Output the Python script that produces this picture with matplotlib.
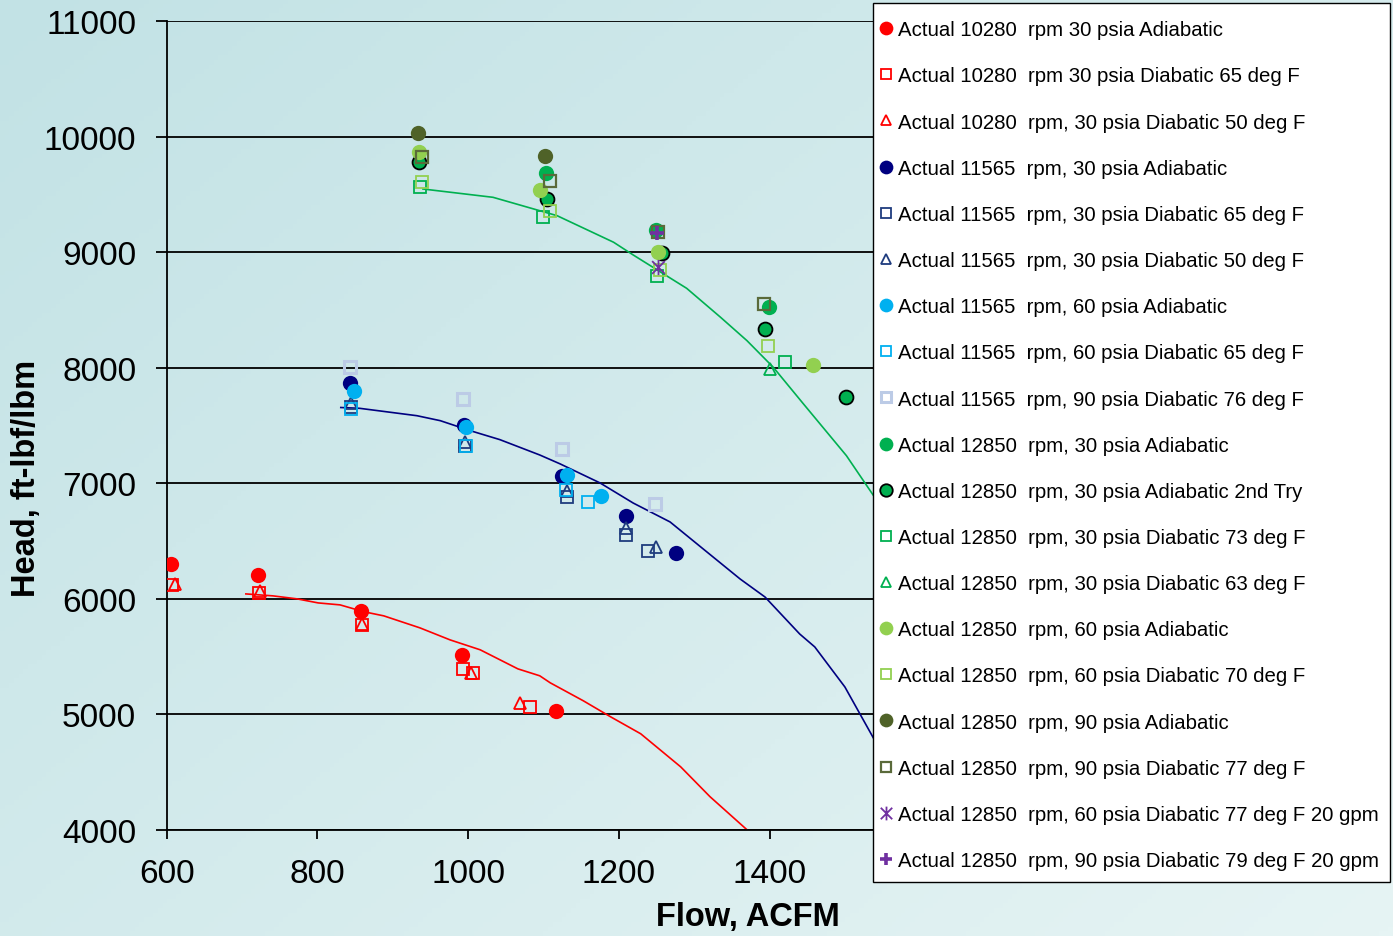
import numpy as np
import matplotlib
matplotlib.use('Agg')
import matplotlib.pyplot as plt
from matplotlib.path import Path
from matplotlib.patches import Rectangle
from matplotlib.colors import LinearSegmentedColormap

plt.rcParams['font.family'] = ['Liberation Sans', 'DejaVu Sans']

# flow (ACFM) / head (ft-lbf/lbm)
# 10280 rpm
r10_adi_x = [606, 721, 858, 992, 1117]
r10_adi_y = [6300, 6206, 5894, 5513, 5029]
r10_d65_x = [607, 722, 859, 993, 1007, 1082]
r10_d65_y = [6119, 6050, 5775, 5390, 5360, 5063]
r10_d50_x = [611, 724, 859, 1004, 1069]
r10_d50_y = [6127, 6068, 5784, 5357, 5098]

# 11565 rpm
r11_adi_x = [843, 995, 1124, 1210, 1276]
r11_adi_y = [7866, 7505, 7066, 6714, 6394]
r11_d65_x = [845, 996, 1131, 1209, 1239]
r11_d65_y = [7661, 7323, 6879, 6552, 6411]
r11_d50_x = [845, 996, 1131, 1210, 1249]
r11_d50_y = [7695, 7358, 6936, 6610, 6446]
r11_60adi_x = [848, 997, 1131, 1176]
r11_60adi_y = [7802, 7490, 7072, 6893]
r11_60d65_x = [845, 997, 1130, 1159]
r11_60d65_y = [7644, 7326, 6946, 6835]
r11_90d76_x = [843, 993, 1125, 1248]
r11_90d76_y = [8004, 7730, 7297, 6820]

# 12850 rpm
r12_adi_x = [1103, 1249, 1399]
r12_adi_y = [9684, 9193, 8524]
r12_adi2_x = [935, 1105, 1257, 1394, 1501]
r12_adi2_y = [9782, 9461, 8994, 8336, 7750]
r12_d73_x = [936, 1100, 1250, 1420]
r12_d73_y = [9563, 9303, 8797, 8053]
r12_d63_x = [1401]
r12_d63_y = [7990]
r12_60adi_x = [935, 1095, 1252, 1457]
r12_60adi_y = [9866, 9542, 9000, 8024]
r12_60d70_x = [939, 1108, 1255, 1398]
r12_60d70_y = [9611, 9360, 8849, 8191]
r12_90adi_x = [934, 1102]
r12_90adi_y = [10033, 9836]
r12_90d77_x = [939, 1108, 1252, 1392]
r12_90d77_y = [9823, 9620, 9173, 8552]
r12_60gpm_x = [1252]
r12_60gpm_y = [8875]
r12_90gpm_x = [1250]
r12_90gpm_y = [9164]

# predicted curves
red_line_x = [705, 741, 773, 801, 830, 862, 888, 936, 976, 1016, 1066, 1095,
              1109, 1153, 1189, 1229, 1282, 1321, 1370, 1400]
red_line_y = [6042, 6025, 5999, 5964, 5947, 5887, 5852, 5748, 5644, 5558, 5393,
              5333, 5272, 5116, 4978, 4831, 4545, 4286, 4000, 3800]
blue_line_x = [831, 856, 932, 963, 1003, 1042, 1095, 1122, 1175, 1219, 1268,
               1312, 1361, 1394, 1440, 1460, 1500, 1537, 1580]
blue_line_y = [7656, 7649, 7585, 7542, 7455, 7378, 7245, 7168, 7003, 6829, 6665,
               6431, 6171, 6015, 5695, 5583, 5236, 4804, 4300]
green_line_x = [940, 1033, 1118, 1193, 1219, 1290, 1335, 1370, 1405, 1445,
                1502, 1538, 1580]
green_line_y = [9548, 9476, 9317, 9087, 8977, 8688, 8437, 8235, 8004, 7687,
                7239, 6893, 6450]

x_ticks = [600, 800, 1000, 1200, 1400, 1600, 1800, 2000]
x_ticklabels = ['600', '800', '1000', '1200', '1400', '', '', '']  # rest sit under the legend
y_ticks = [4000, 5000, 6000, 7000, 8000, 9000, 10000, 11000]

labels = [
    'Actual 10280  rpm 30 psia Adiabatic',
    'Actual 10280  rpm 30 psia Diabatic 65 deg F',
    'Actual 10280  rpm, 30 psia Diabatic 50 deg F',
    'Actual 11565  rpm, 30 psia Adiabatic',
    'Actual 11565  rpm, 30 psia Diabatic 65 deg F',
    'Actual 11565  rpm, 30 psia Diabatic 50 deg F',
    'Actual 11565  rpm, 60 psia Adiabatic',
    'Actual 11565  rpm, 60 psia Diabatic 65 deg F',
    'Actual 11565  rpm, 90 psia Diabatic 76 deg F',
    'Actual 12850  rpm, 30 psia Adiabatic',
    'Actual 12850  rpm, 30 psia Adiabatic 2nd Try',
    'Actual 12850  rpm, 30 psia Diabatic 73 deg F',
    'Actual 12850  rpm, 30 psia Diabatic 63 deg F',
    'Actual 12850  rpm, 60 psia Adiabatic',
    'Actual 12850  rpm, 60 psia Diabatic 70 deg F',
    'Actual 12850  rpm, 90 psia Adiabatic',
    'Actual 12850  rpm, 90 psia Diabatic 77 deg F',
    'Actual 12850  rpm, 60 psia Diabatic 77 deg F 20 gpm',
    'Actual 12850  rpm, 90 psia Diabatic 79 deg F 20 gpm',
]

# excel style asterisk: an x with a vertical bar through it
star = Path([(-1, -1), (1, 1), (-1, 1), (1, -1), (0, -1.2), (0, 1.2)],
            [Path.MOVETO, Path.LINETO, Path.MOVETO, Path.LINETO, Path.MOVETO, Path.LINETO])

fig = plt.figure(figsize=(13.93, 9.37), dpi=100)

# soft diagonal background gradient
bg = fig.add_axes([0, 0, 1, 1], zorder=-10)
gx, gy = np.meshgrid(np.linspace(0, 1, 300), np.linspace(0, 1, 200))
cmap = LinearSegmentedColormap.from_list('bg', ['#c2e2e5', '#e6f4f4'])
bg.imshow(0.55 * gx + 0.45 * gy, cmap=cmap, aspect='auto', extent=[0, 1, 0, 1])
bg.set_axis_off()

ax = fig.add_axes([0.1197, 0.1134, 0.7573, 0.8628])
ax.set_facecolor('none')

ax.plot(red_line_x, red_line_y, color='#ff0000', lw=1.2, zorder=2)
ax.plot(blue_line_x, blue_line_y, color='#000080', lw=1.2, zorder=2)
ax.plot(green_line_x, green_line_y, color='#00b050', lw=1.2, zorder=2)

circ = dict(linestyle='none', marker='o', ms=11, mew=0)
sq = dict(linestyle='none', marker='s', ms=8, mfc='none', mew=1.3)
tri = dict(linestyle='none', marker='^', ms=8, mfc='none', mew=1.3)

series = [
    (r10_adi_x, r10_adi_y, dict(circ, color='#ff0000')),
    (r10_d65_x, r10_d65_y, dict(sq, mec='#ff0000')),
    (r10_d50_x, r10_d50_y, dict(tri, mec='#ff0000')),
    (r11_adi_x, r11_adi_y, dict(circ, color='#000080')),
    (r11_d65_x, r11_d65_y, dict(sq, mec='#1f3c7e')),
    (r11_d50_x, r11_d50_y, dict(tri, mec='#1f3c7e')),
    (r11_60adi_x, r11_60adi_y, dict(circ, color='#00b0f0')),
    (r11_60d65_x, r11_60d65_y, dict(sq, mec='#00b0f0')),
    (r11_90d76_x, r11_90d76_y, dict(sq, mec='#bccbe6', mew=2.2)),
    (r12_adi_x, r12_adi_y, dict(circ, color='#00b050')),
    (r12_adi2_x, r12_adi2_y, dict(circ, mfc='#00b050', mec='black', mew=1.3, ms=10)),
    (r12_d73_x, r12_d73_y, dict(sq, mec='#00b050')),
    (r12_d63_x, r12_d63_y, dict(tri, mec='#00b050')),
    (r12_60adi_x, r12_60adi_y, dict(circ, color='#92d050')),
    (r12_60d70_x, r12_60d70_y, dict(sq, mec='#92d050')),
    (r12_90adi_x, r12_90adi_y, dict(circ, color='#4f6228')),
    (r12_90d77_x, r12_90d77_y, dict(sq, mec='#5a6a3a', mew=1.6)),
    (r12_60gpm_x, r12_60gpm_y, dict(linestyle='none', marker=star, ms=11, mec='#7030a0', mfc='none', mew=1.3)),
    (r12_90gpm_x, r12_90gpm_y, dict(linestyle='none', marker='+', ms=10, mec='#7030a0', mew=2.6)),
]
for (x, y, style), lab in zip(series, labels):
    ax.plot(x, y, label=lab, zorder=3, **style)

ax.set_xlim(600, 2000)
ax.set_ylim(4000, 11000)
ax.set_xticks(x_ticks, labels=x_ticklabels)
ax.set_yticks(y_ticks)
ax.yaxis.grid(True, color='black', lw=1.3)
ax.tick_params(axis='y', direction='out', length=8, width=1.3, labelsize=24, pad=14)
ax.tick_params(axis='x', direction='out', length=6.5, width=1.3, labelsize=24, pad=14)
for s in ['top', 'right']:
    ax.spines[s].set_visible(False)
for s in ['left', 'bottom']:
    ax.spines[s].set_linewidth(1.3)

ax.set_xlabel('Flow, ACFM', fontsize=23.5, fontweight='bold')
ax.set_ylabel('Head, ft-lbf/lbm', fontsize=23.5, fontweight='bold')
ax.xaxis.set_label_coords(0.551, -0.1076)
ax.xaxis.label.set_va('center')
ax.yaxis.set_label_coords(-0.1334, 0.4354)
ax.yaxis.label.set_va('center')

# legend box sits over the right part of the plot area
box = Rectangle((0.6267, 0.0577), 0.3712, 0.9381, transform=fig.transFigure,
                facecolor='white', edgecolor='black', lw=1.0, zorder=4.5, clip_on=False)
ax.add_patch(box)
leg = ax.legend(loc='upper left', bbox_to_anchor=(0.631, 0.9773),
                bbox_transform=fig.transFigure, borderaxespad=0, fontsize=14.7,
                frameon=False, labelspacing=1.33, handlelength=0.7,
                handletextpad=0.23, borderpad=0, markerscale=0.9)
leg.set_zorder(6)

fig.savefig('out.png', dpi=100)
